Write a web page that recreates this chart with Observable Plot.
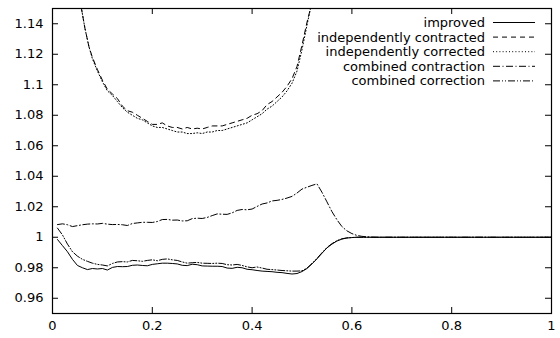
<!DOCTYPE html>
<html><head><meta charset="utf-8">
<script src="https://cdn.jsdelivr.net/npm/d3@7"></script>
<script src="https://cdn.jsdelivr.net/npm/@observablehq/plot@0.6"></script>
<style>body{margin:0;background:#fff}</style>
</head><body><div id="chart"></div>
<script>
const xTicks = [0, 0.2, 0.4, 0.6, 0.8, 1];
const yTicks = [0.96, 0.98, 1, 1.02, 1.04, 1.06, 1.08, 1.1, 1.12, 1.14];
const seriesNames = ["improved", "independently contracted", "independently corrected", "combined contraction", "combined correction"];

const xLow = [0.01,0.02,0.03,0.04,0.05,0.06,0.07,0.08,0.09,0.10,
  0.11,0.12,0.13,0.14,0.15,0.16,0.17,0.18,0.19,0.20,
  0.21,0.22,0.23,0.24,0.25,0.26,0.27,0.28,0.29,0.30,
  0.31,0.32,0.33,0.34,0.35,0.36,0.37,0.38,0.39,0.40,
  0.41,0.42,0.43,0.44,0.45,0.46,0.47,0.48,0.49,0.50,
  0.51,0.52,0.53,0.54,0.55,0.56,0.57,0.58,0.59,0.60,
  0.61,0.62,0.63,0.64,0.65,0.7,0.8,0.9,1.0];

const improved = [0.9985,0.9945,0.9905,0.9855,0.9815,0.9800,0.9788,0.9795,0.9792,0.9795,
  0.9785,0.9802,0.9808,0.9807,0.9808,0.9816,0.9818,0.9815,0.9813,0.9822,
  0.9826,0.9830,0.9830,0.9828,0.9825,0.9816,0.9814,0.9823,0.9820,0.9812,
  0.9811,0.9810,0.9810,0.9808,0.9798,0.9796,0.9803,0.9800,0.9790,0.9787,
  0.9782,0.9778,0.9776,0.9774,0.9770,0.9768,0.9763,0.9759,0.9762,0.9775,
  0.9795,0.9825,0.9858,0.9895,0.9930,0.9955,0.9975,0.9988,0.9995,0.9998,
  1.0000,1,1,1,1,1,1,1,1];

const combinedCorrection = [1.0060,1.0015,0.9955,0.9905,0.9876,0.9855,0.9842,0.9830,0.9822,0.9818,
  0.9812,0.9828,0.9838,0.9840,0.9838,0.9848,0.9846,0.9842,0.9848,0.9852,
  0.9846,0.9855,0.9858,0.9852,0.9848,0.9838,0.9830,0.9833,0.9835,0.9830,
  0.9829,0.9828,0.9830,0.9828,0.9820,0.9818,0.9822,0.9815,0.9806,0.9800,
  0.9805,0.9798,0.9790,0.9788,0.9785,0.9782,0.9780,0.9778,0.9778,0.9780,
  0.9798,0.9828,0.9862,0.9898,0.9933,0.9958,0.9978,0.9990,0.9996,0.9998,
  1.0000,1,1,1,1,1,1,1,1];

const combinedContraction = [1.0083,1.0088,1.0082,1.0070,1.0076,1.0082,1.0086,1.0088,1.0087,1.0091,
  1.0086,1.0083,1.0084,1.0082,1.0077,1.0090,1.0094,1.0098,1.0098,1.0097,
  1.0103,1.0116,1.0117,1.0112,1.0113,1.0107,1.0108,1.0122,1.0125,1.0123,
  1.0130,1.0142,1.0153,1.0151,1.0150,1.0160,1.0176,1.0182,1.0180,1.0185,
  1.0202,1.0218,1.0225,1.0238,1.0242,1.0248,1.0257,1.0268,1.0290,1.0316,
  1.0328,1.0340,1.0350,1.0295,1.0232,1.0168,1.0115,1.0070,1.0042,1.0024,
  1.0012,1.0006,1.0003,1.0001,1.0000,1,1,1,1];

const xU = [0.045,0.058,0.065,0.073,0.08,0.09,0.10,0.11,0.12,0.13,
  0.14,0.15,0.16,0.17,0.18,0.19,0.20,0.21,0.22,0.23,
  0.24,0.25,0.26,0.27,0.28,0.29,0.30,0.31,0.32,0.33,
  0.34,0.35,0.36,0.37,0.38,0.39,0.40,0.41,0.42,0.43,
  0.44,0.45,0.46,0.47,0.48,0.49,0.50,0.51,0.517,0.53];

const indepContracted = [1.18,1.150,1.137,1.125,1.118,1.110,1.103,1.097,1.094,1.091,
  1.086,1.083,1.082,1.080,1.078,1.076,1.074,1.074,1.075,1.073,
  1.072,1.072,1.071,1.072,1.071,1.0715,1.071,1.072,1.073,1.073,
  1.073,1.074,1.075,1.076,1.077,1.078,1.080,1.081,1.083,1.087,
  1.089,1.092,1.095,1.099,1.104,1.112,1.126,1.141,1.150,1.18];

const indepCorrected = [1.18,1.150,1.137,1.125,1.117,1.109,1.102,1.096,1.093,1.089,
  1.085,1.082,1.080,1.078,1.077,1.075,1.073,1.072,1.072,1.071,
  1.070,1.069,1.069,1.068,1.068,1.0685,1.068,1.069,1.069,1.070,
  1.070,1.071,1.072,1.073,1.074,1.075,1.077,1.079,1.081,1.084,
  1.086,1.089,1.092,1.096,1.101,1.109,1.123,1.139,1.150,1.18];

const seriesData = [
  {name: seriesNames[0], xs: xLow, ys: improved},
  {name: seriesNames[1], xs: xU, ys: indepContracted},
  {name: seriesNames[2], xs: xU, ys: indepCorrected},
  {name: seriesNames[3], xs: xLow, ys: combinedContraction},
  {name: seriesNames[4], xs: xLow, ys: combinedCorrection}
];
const dashes = ["none", "5,4", "1,2.2", "7,2.5,1,2.5", "7,2,1,2,1,2"];

const W = 560, H = 338, mL = 52, mR = 9, mT = 8, mB = 25;
const fW = W - mL - mR, fH = H - mT - mB, tick = 6;

const lineMarks = seriesData.map((s, i) => Plot.line(
  s.xs.map((x, j) => ({x, y: s.ys[j]})),
  {x: "x", y: "y", stroke: "#000", strokeWidth: 1, strokeDasharray: dashes[i], clip: true}
));

const fmt = d => String(d);
const chart = Plot.plot({
  width: W, height: H, marginLeft: mL, marginRight: mR, marginTop: mT, marginBottom: mB,
  x: {domain: [0, 1]},
  y: {domain: [0.95, 1.15]},
  style: {fontFamily: "DejaVu Sans", fontSize: "13px", background: "#fff", color: "#000"},
  marks: [
    ...lineMarks,
    Plot.ruleX(xTicks, {x: d => d, insetTop: fH - tick, stroke: "#000"}),
    Plot.ruleX(xTicks, {x: d => d, insetBottom: fH - tick, stroke: "#000"}),
    Plot.ruleY(yTicks, {y: d => d, insetRight: fW - tick, stroke: "#000"}),
    Plot.ruleY(yTicks, {y: d => d, insetLeft: fW - tick, stroke: "#000"}),
    Plot.axisX({ticks: xTicks, tickSize: 0, tickPadding: 7, tickFormat: fmt, label: null, fontSize: 13}),
    Plot.axisY({ticks: yTicks, tickSize: 0, tickPadding: 9, tickFormat: fmt, label: null, fontSize: 13}),
    Plot.frame({stroke: "#000", strokeWidth: 1.2})
  ]
});
document.getElementById("chart").appendChild(chart);

// legend
const svg = d3.select(chart);
const lg = svg.append("g").attr("font-family", "DejaVu Sans").attr("font-size", 13);
seriesNames.forEach((name, i) => {
  const cy = 22.5 + i * 14.6;
  lg.append("text").attr("x", 485).attr("y", cy + 4.5).attr("text-anchor", "end").attr("fill", "#000").text(name);
  lg.append("line").attr("x1", 493).attr("x2", 535).attr("y1", cy).attr("y2", cy)
    .attr("stroke", "#000").attr("stroke-width", 1).attr("stroke-dasharray", dashes[i]);
});
</script>
</body></html>
